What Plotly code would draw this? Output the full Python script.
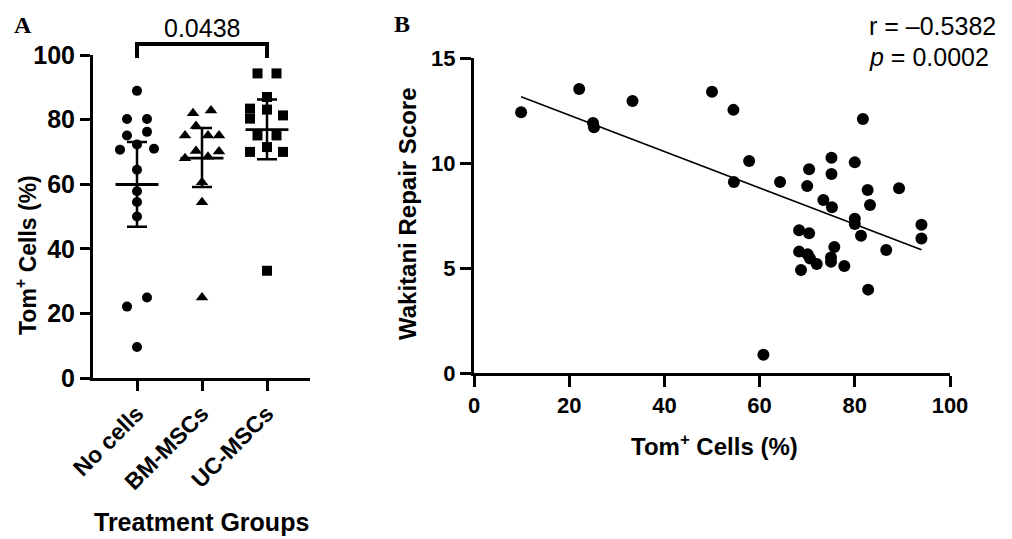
import numpy as np
import plotly.graph_objects as go

# ---------------- Panel A data ----------------
categories = ["No cells", "BM-MSCs", "UC-MSCs"]
no_cells = [88.9, 80.2, 80.2, 75.1, 76.2, 72.3, 70.7, 71.0, 64.5, 57.8, 54.5, 50.0, 22.1, 24.9, 9.6]
bm_mscs = [82.0, 82.8, 78.0, 75.1, 75.1, 75.1, 68.0, 70.3, 68.5, 70.1, 60.6, 54.4, 24.9]
uc_mscs = [94.3, 94.3, 87.0, 83.4, 83.1, 81.3, 80.3, 75.1, 75.1, 71.5, 70.0, 70.0, 33.2]
group_mean = [59.9, 68.1, 76.9]
group_low = [46.8, 59.1, 67.7]
group_high = [73.1, 77.4, 86.2]
p_group = "0.0438"

# horizontal scatter offsets (pixels) used to lay out the dot plot
no_cells_off = [0, -10, 10, -10, 10, 0, -17, 17, 0, 0, 0, 0, -10, 10, 0]
bm_off = [-9, 9, -6, -17, 6, 17, -17, -6, 6, 17, 0, 0, 0]
uc_off = [-9.5, 9.5, 0, -17, 0, 16, -17, -9.5, 9.5, 0, -17, 16, 0]

# ---------------- Panel B data ----------------
tom_cells = [9.9, 22.1, 25.0, 25.2, 33.3, 50.0, 54.5, 57.8, 54.6, 64.3, 70.4, 70.0, 75.1, 75.1,
             80.0, 73.4, 75.2, 81.7, 82.7, 83.2, 80.0, 80.0, 81.3, 89.3, 94.0, 94.0, 86.6, 82.8,
             68.3, 70.4, 68.3, 70.1, 70.6, 72.0, 68.7, 75.7, 75.0, 75.0, 77.8, 60.8]
wakitani = [12.42, 13.52, 11.9, 11.7, 12.95, 13.39, 12.53, 10.1, 9.1, 9.1, 9.7, 8.9, 10.25, 9.48,
            10.03, 8.24, 7.89, 12.1, 8.71, 8.0, 7.35, 7.1, 6.54, 8.8, 7.06, 6.4, 5.86, 3.97,
            6.8, 6.65, 5.78, 5.65, 5.45, 5.19, 4.9, 6.0, 5.5, 5.3, 5.1, 0.87]
r_text = "r = \u20130.5382"
p_text = "<i>p</i> = 0.0002"

PAGE_OFF = 8                      # default page margin around the plot div
W, H = 1012 - PAGE_OFF, 539 - PAGE_OFF
FONT = "Liberation Sans"

# Panel A geometry (pixels in the final picture)
A_left, A_right, A_top, A_bot = 93, 310, 55, 378
cat_px = 65.0
xa_range = [-(137 - A_left) / cat_px, 2 + (A_right - 267) / cat_px]
# Panel B geometry
B_left, B_right, B_top, B_bot = 474, 950, 58, 373


def px2paper_x(p):
    return (p - PAGE_OFF) / W


def px2paper_y(p):
    return 1 - (p - PAGE_OFF) / H


fig = go.Figure()

symbols = ["circle", "triangle-up", "square"]
sizes = [10, 11, 10]
for i, (vals, offs) in enumerate([(no_cells, no_cells_off), (bm_mscs, bm_off), (uc_mscs, uc_off)]):
    fig.add_trace(go.Scatter(
        x=[i + o / cat_px for o in offs], y=vals, mode="markers",
        marker=dict(symbol=symbols[i], size=sizes[i], color="black", line=dict(width=0)),
        xaxis="x", yaxis="y", showlegend=False, cliponaxis=False))

# error bars
fig.add_trace(go.Scatter(
    x=[0, 1, 2], y=group_mean, mode="markers", marker=dict(size=0.1, color="black"),
    error_y=dict(type="data", symmetric=False,
                 array=[h - m for h, m in zip(group_high, group_mean)],
                 arrayminus=[m - l for m, l in zip(group_mean, group_low)],
                 color="black", thickness=2.5, width=10),
    xaxis="x", yaxis="y", showlegend=False))
# mean lines
mx, my = [], []
for i, m in enumerate(group_mean):
    mx += [i - 0.33, i + 0.33, None]
    my += [m, m, None]
fig.add_trace(go.Scatter(x=mx, y=my, mode="lines", line=dict(color="black", width=2.8),
                         xaxis="x", yaxis="y", showlegend=False))

# Panel B scatter
fig.add_trace(go.Scatter(
    x=tom_cells, y=wakitani, mode="markers",
    marker=dict(symbol="circle", size=12, color="black"),
    xaxis="x2", yaxis="y2", showlegend=False, cliponaxis=False))
slope, intercept = np.polyfit(tom_cells, wakitani, 1)
fx = [min(tom_cells), max(tom_cells)]
fig.add_trace(go.Scatter(x=fx, y=[slope * v + intercept for v in fx], mode="lines",
                         line=dict(color="black", width=1.6),
                         xaxis="x2", yaxis="y2", showlegend=False))

axis_common = dict(showgrid=False, zeroline=False, showline=True, linecolor="black",
                   linewidth=3, ticks="outside", tickcolor="black", tickwidth=2.5,
                   automargin=False)

fig.update_layout(
    template="none",
    width=W, height=H, margin=dict(l=0, r=0, t=0, b=0, autoexpand=False),
    paper_bgcolor="white", plot_bgcolor="white",
    font=dict(family=FONT, color="black"),
    xaxis=dict(domain=[px2paper_x(A_left), px2paper_x(A_right)], range=xa_range,
               tickvals=[0, 1, 2], ticktext=categories, tickangle=-45, ticklen=10,
               tickfont=dict(size=23, family=FONT, weight="bold"), anchor="y", **axis_common),
    yaxis=dict(domain=[px2paper_y(A_bot), px2paper_y(A_top)], range=[0, 100], dtick=20,
               ticklen=10, tickfont=dict(size=25, family=FONT, weight="bold"), anchor="x",
               **axis_common),
    xaxis2=dict(domain=[px2paper_x(B_left), px2paper_x(B_right)], range=[0, 100], dtick=20,
                ticklen=11, tickfont=dict(size=22, family=FONT, weight="bold"), anchor="y2",
                **axis_common),
    yaxis2=dict(domain=[px2paper_y(B_bot), px2paper_y(B_top)], range=[0, 15], dtick=5,
                ticklen=11, tickfont=dict(size=22, family=FONT, weight="bold"), anchor="x2",
                **axis_common),
)

# significance bracket
br_top = px2paper_y(44)
br_bot = px2paper_y(58)
fig.add_shape(type="path", xref="x", yref="paper",
              path=f"M 0,{br_bot} L 0,{br_top} L 2,{br_top} L 2,{br_bot}",
              line=dict(color="black", width=4))

ann = [
    dict(text=p_group, x=1, xref="x", y=px2paper_y(28), yref="paper",
         font=dict(size=25, family=FONT)),
    dict(text="<b>Tom<sup>+</sup> Cells (%)</b>", x=px2paper_x(26), y=px2paper_y(255),
         textangle=-90, font=dict(size=23, family=FONT)),
    dict(text="<b>Treatment Groups</b>", x=px2paper_x(201), y=px2paper_y(522),
         font=dict(size=25, family=FONT)),
    dict(text="<b>Wakitani Repair Score</b>", x=px2paper_x(407), y=px2paper_y(214),
         textangle=-90, font=dict(size=24, family=FONT)),
    dict(text="<b>Tom<sup>+</sup> Cells (%)</b>", x=px2paper_x(714), y=px2paper_y(445),
         font=dict(size=24, family=FONT)),
    dict(text=r_text, x=px2paper_x(867), y=px2paper_y(26), xanchor="left",
         font=dict(size=25, family=FONT)),
    dict(text=p_text, x=px2paper_x(867), y=px2paper_y(57), xanchor="left",
         font=dict(size=25, family=FONT)),
    dict(text="<b>A</b>", x=px2paper_x(23), y=px2paper_y(25),
         font=dict(size=24, family="Liberation Serif")),
    dict(text="<b>B</b>", x=px2paper_x(402), y=px2paper_y(24),
         font=dict(size=24, family="Liberation Serif")),
]
for a in ann:
    a.setdefault("xref", "paper")
    a.setdefault("yref", "paper")
    a.setdefault("showarrow", False)
    a.setdefault("xanchor", "center")
    a.setdefault("yanchor", "middle")
    fig.add_annotation(**a)

fig.write_html("out.html")
